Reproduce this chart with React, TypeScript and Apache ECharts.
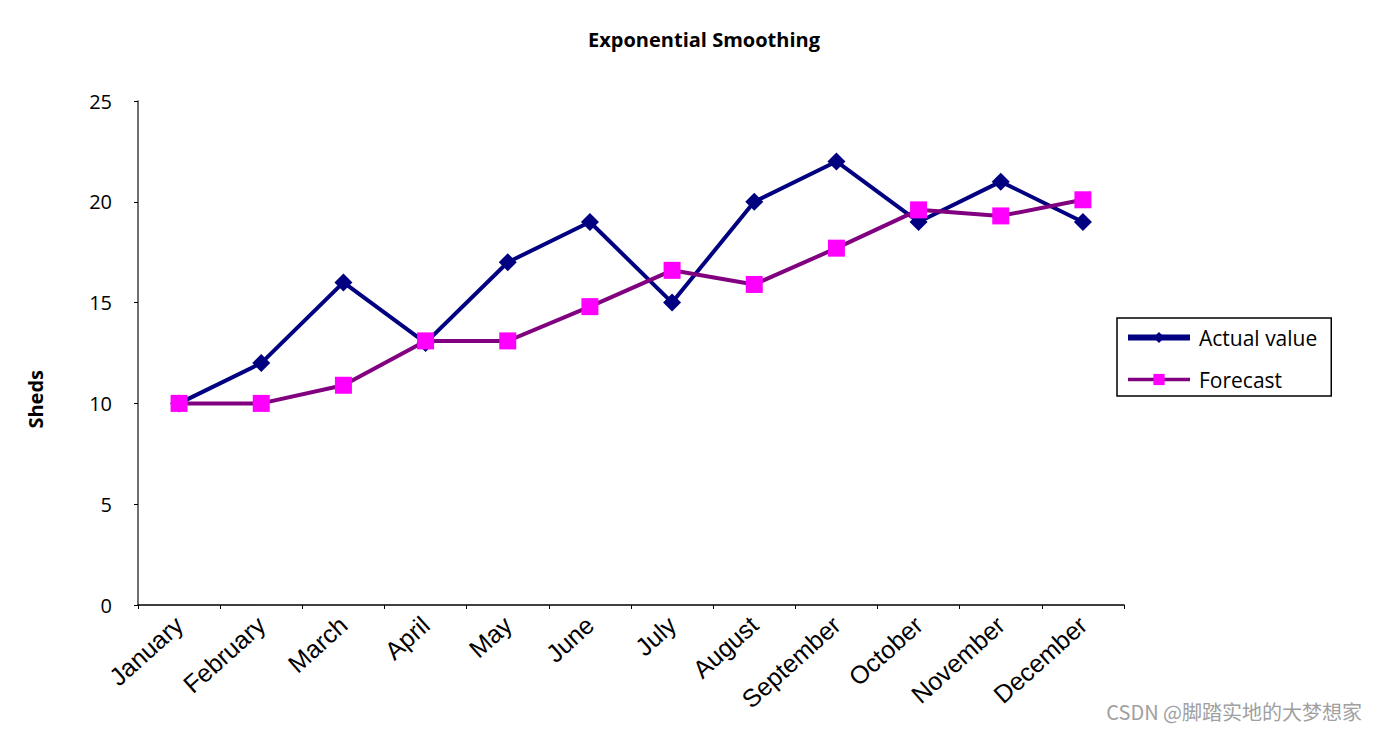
import React, { useEffect, useRef } from "react";
import * as echarts from "echarts";

const months = ["January", "February", "March", "April", "May", "June", "July", "August", "September", "October", "November", "December"];
const actualValues = [10, 12, 16, 13, 17, 19, 15, 20, 22, 19, 21, 19];
const forecastValues = [10, 10, 10.9, 13.1, 13.1, 14.8, 16.6, 15.9, 17.7, 19.6, 19.3, 20.1];
const yTicks = [0, 5, 10, 15, 20, 25];

export default function App() {
  const ref = useRef<HTMLDivElement>(null);
  useEffect(() => {
    if (!ref.current) return;
    const chart = echarts.init(ref.current, null, { renderer: "svg" });
    chart.setOption({
      animation: false,
      backgroundColor: "#ffffff",
      title: {
        text: "Exponential Smoothing",
        left: 699,
        top: 24,
        textAlign: "center",
        textStyle: { fontFamily: "Open Sans", fontWeight: "bold", fontSize: 20, color: "#000" },
      },
      grid: { left: 138, right: 253, top: 101, bottom: 128, containLabel: false },
      legend: {
        orient: "vertical",
        left: 1117,
        top: 318,
        padding: [9, 14, 6, 8],
        borderColor: "#000",
        borderWidth: 1.5,
        itemWidth: 62,
        itemHeight: 14,
        itemGap: 21,
        textStyle: { fontFamily: "Open Sans", fontSize: 21, color: "#000", padding: [0, 2, 0, 4] },
        data: [
          { name: "Actual value", lineStyle: { width: 6 }, itemStyle: { color: "#000080" } },
          { name: "Forecast", lineStyle: { width: 3.5 }, itemStyle: { color: "#FF00FF" } },
        ],
      },
      xAxis: {
        type: "category",
        data: months,
        boundaryGap: true,
        axisLine: { lineStyle: { color: "#000", width: 1.5 } },
        axisTick: { show: true, interval: 0, length: 4, lineStyle: { color: "#000" } },
        axisLabel: {
          interval: 0,
          rotate: 42,
          margin: 16,
          fontFamily: "Liberation Sans",
          fontSize: 25,
          color: "#000",
        },
      },
      yAxis: {
        type: "value",
        min: 0,
        max: 25,
        interval: 5,
        axisLine: { show: true, lineStyle: { color: "#404040", width: 1.5 } },
        axisTick: { show: true, length: 4, lineStyle: { color: "#000" } },
        splitLine: { show: false },
        axisLabel: {
          margin: 26,
          fontFamily: "Open Sans",
          fontSize: 20,
          color: "#000",
          formatter: (v: number) => (yTicks.includes(v) ? String(v) : ""),
        },
      },
      series: [
        {
          name: "Actual value",
          type: "line",
          data: actualValues,
          symbol: "diamond",
          symbolSize: 18,
          lineStyle: { color: "#000080", width: 4 },
          itemStyle: { color: "#000080" },
          z: 2,
        },
        {
          name: "Forecast",
          type: "line",
          data: forecastValues,
          symbol: "rect",
          symbolSize: 17,
          lineStyle: { color: "#800080", width: 4 },
          itemStyle: { color: "#FF00FF" },
          z: 3,
        },
      ],
      graphic: [
        {
          type: "text",
          left: 25,
          top: 370,
          rotation: Math.PI / 2,
          style: {
            text: "Sheds",
            fontFamily: "Open Sans",
            fontWeight: "bold",
            fontSize: 20,
            fill: "#000",
          },
        },
        {
          type: "text",
          right: 15,
          top: 701,
          style: {
            text: "CSDN @脚踏实地的大梦想家",
            fontFamily: "Noto Sans CJK SC",
            fontSize: 20,
            fill: "#a0a0a0",
          },
        },
      ],
    });
    return () => chart.dispose();
  }, []);
  return <div ref={ref} style={{ position: "absolute", left: 0, top: 0, width: 1377, height: 733 }} />;
}
